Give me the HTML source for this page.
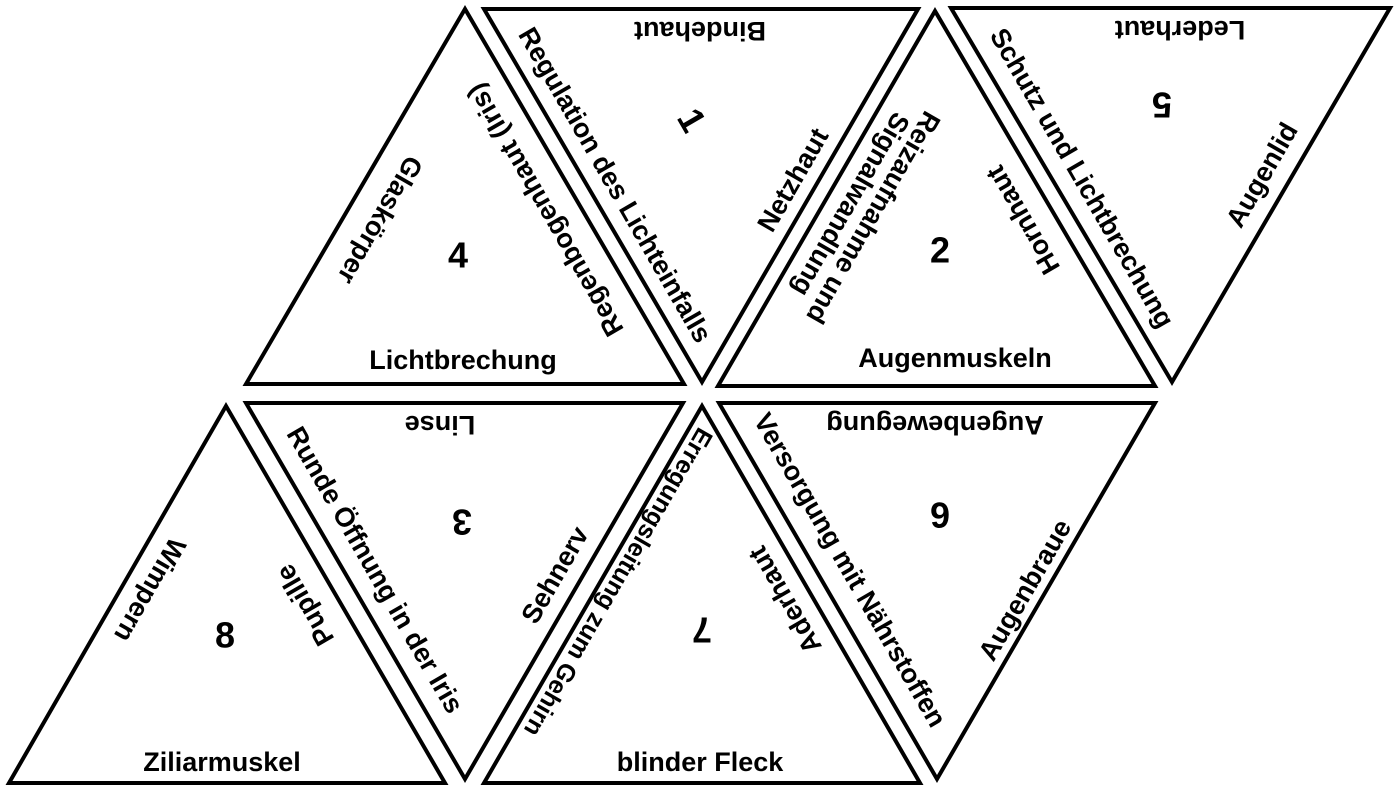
<!DOCTYPE html>
<html><head><meta charset="utf-8"><style>
html,body{margin:0;padding:0;background:#fff;}
svg{display:block;}
text{font-family:"Liberation Sans",Arial,sans-serif;font-weight:bold;fill:#000;}
.l{font-size:27px;}
.n{font-size:36px;}
</style></head><body>
<svg width="1399" height="794" viewBox="0 0 1399 794" xmlns="http://www.w3.org/2000/svg">
<g fill="none" stroke="#000" stroke-width="4" stroke-linejoin="miter">
<polygon points="465,9 246,384 684,384"/>
<polygon points="484,9 918,9 702,382"/>
<polygon points="935,11 718,386 1155,386"/>
<polygon points="951,8 1390,8 1172,382"/>
<polygon points="226,406 9,783 445,783"/>
<polygon points="246,403 683,403 465,779"/>
<polygon points="702,406 484,783 920,783"/>
<polygon points="719,403 1155,403 937,779"/>
</g>
<g class="l" text-anchor="middle" dominant-baseline="central">
<!-- T4 -->
<text x="463" y="360">Lichtbrechung</text>
<text transform="translate(380,220) rotate(120)">Glaskörper</text>
<text transform="translate(545,210) rotate(-120)">Regenbogenhaut (Iris)</text>
<!-- T1 -->
<text transform="translate(700,31) rotate(180)">Bindehaut</text>
<text transform="translate(615,185) rotate(60)">Regulation des Lichteinfalls</text>
<text transform="translate(793,180) rotate(-60)">Netzhaut</text>
<!-- T2 -->
<text x="955" y="358">Augenmuskeln</text>
<g transform="translate(862,211) rotate(120)"><text y="-13">Reizaufnahme und</text><text y="13">Signalwandlung</text></g>
<text transform="translate(1023,220) rotate(-120)">Hornhaut</text>
<!-- T5 -->
<text transform="translate(1180,30) rotate(180)">Lederhaut</text>
<text transform="translate(1082,178) rotate(60)">Schutz und Lichtbrechung</text>
<text transform="translate(1262,175) rotate(-60)">Augenlid</text>
<!-- T8 -->
<text x="222" y="762">Ziliarmuskel</text>
<text transform="translate(150,590) rotate(120)">Wimpern</text>
<text transform="translate(305,605) rotate(-120)">Pupille</text>
<!-- T3 -->
<text transform="translate(440,425) rotate(180)">Linse</text>
<text transform="translate(375,570) rotate(60)">Runde Öffnung in der Iris</text>
<text transform="translate(555,575) rotate(-60)">Sehnerv</text>
<!-- T7 -->
<text x="700" y="762">blinder Fleck</text>
<text transform="translate(618,582) rotate(120)" style="font-size:25px">Erregungsleitung zum Gehirn</text>
<text transform="translate(785,600) rotate(-120)">Aderhaut</text>
<!-- T6 -->
<text transform="translate(935,425) rotate(180)">Augenbewegung</text>
<text transform="translate(850,570) rotate(60)">Versorgung mit Nährstoffen</text>
<text transform="translate(1025,590) rotate(-60)">Augenbraue</text>
</g>
<g class="n" text-anchor="middle" dominant-baseline="central">
<text x="458" y="255">4</text>
<text transform="translate(692,120) rotate(60)">1</text>
<text x="940" y="250">2</text>
<text transform="translate(1162,105) rotate(180)">5</text>
<text x="225" y="635">8</text>
<text transform="translate(462,522) rotate(180)">3</text>
<text transform="translate(702,630) rotate(180)">7</text>
<text transform="translate(940,515) rotate(180)">6</text>
</g>
</svg>
</body></html>
